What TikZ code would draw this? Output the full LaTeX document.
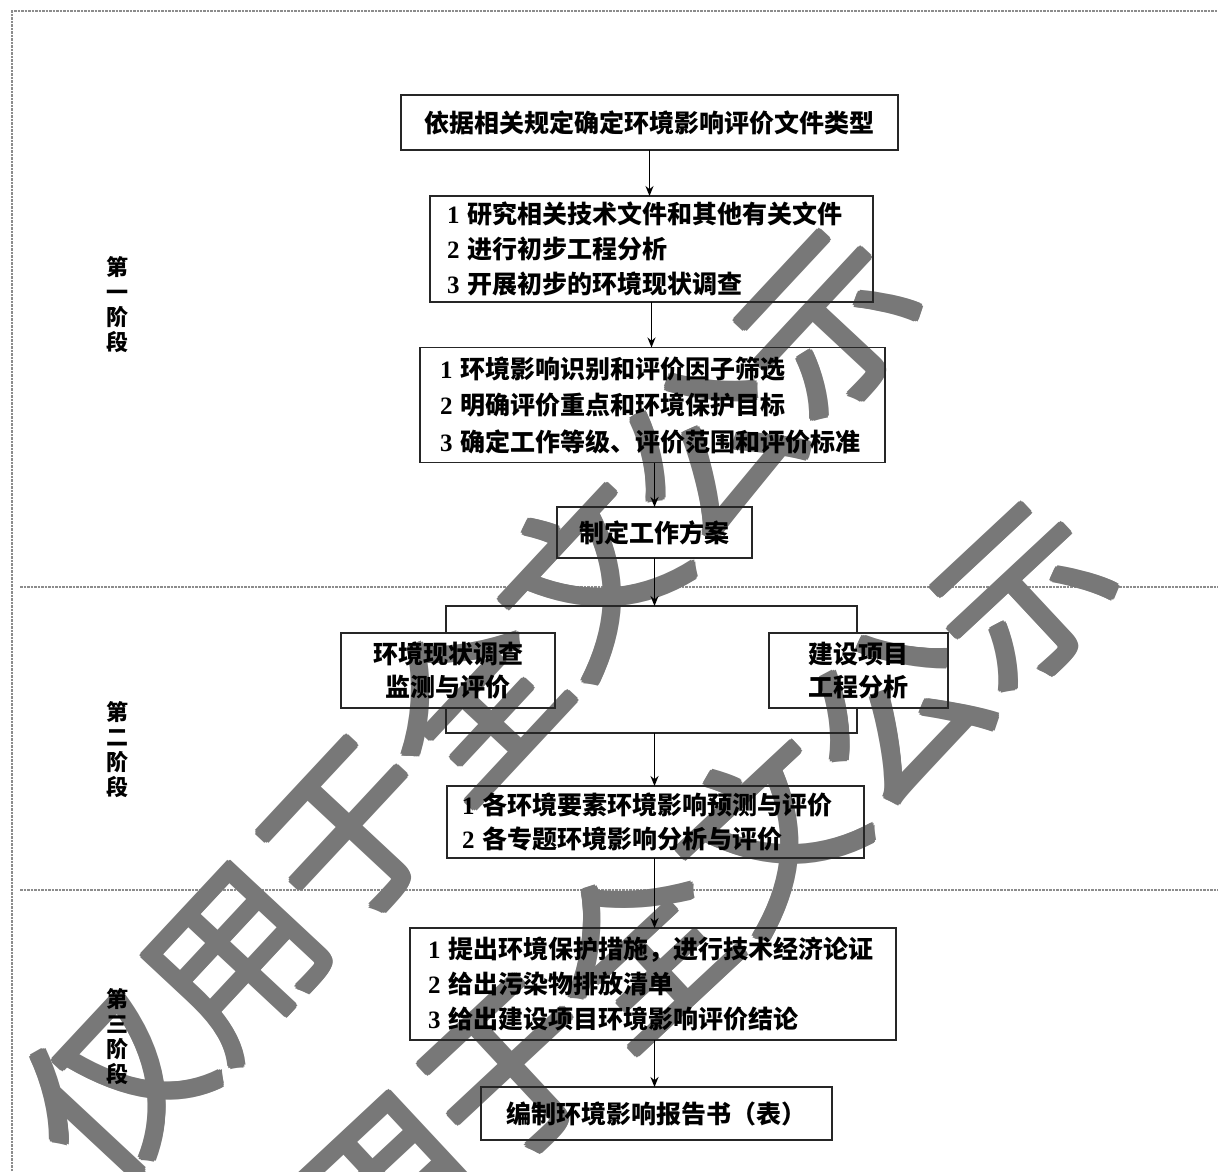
\documentclass[tikz,border=0pt]{standalone}
\usepackage{fontspec}
\setmainfont{Liberation Serif}
\newfontfamily\cjk{Noto Sans CJK SC}
\usetikzlibrary{arrows.meta}
\newcommand\numlab[1]{{\rmfamily\bfseries #1}}
\newcommand\wmtext{仅用于全文公示}
\begin{document}
\begin{tikzpicture}[x=1pt,y=-1pt,
  box/.style={draw=black!85, line width=1.6pt, inner sep=0pt, outer sep=0pt},
  boxtxt/.style={font=\cjk\bfseries\fontsize{25}{#1}\selectfont},
  frameline/.style={draw=black!85, line width=1.6pt},
  arr/.style={line width=1.6pt, -{Stealth[length=10pt,width=8pt]}},
  sepline/.style={draw=black!45, line width=1.6pt, dash pattern=on 2.5pt off 1pt},
  stage/.style={font=\cjk\bfseries\fontsize{22}{25}\selectfont, align=center, inner sep=0pt},
  wm/.style={font=\cjk\fontsize{174}{174}\selectfont, text=black!53, inner sep=0pt}]
\useasboundingbox (0,0) rectangle (1218,1171);
% frame and separators
\draw[sepline] (12,1171) -- (12,11) -- (1218,11);
\draw[sepline] (20,587) -- (1218,587);
\draw[sepline] (20,890) -- (1218,890);
% watermark (drawn first, thickened by small offset copies)
\foreach \dx/\dy [count=\k] in {0/0, 2.6/0, -2.6/0, 0/2.6, 0/-2.6, 1.9/1.9, -1.9/1.9, 1.9/-1.9, -1.9/-1.9} {
  \node[wm, rotate=47] (wma\k) at (470+\dx,703+\dy) {\wmtext};
  \node[wm, rotate=43] (wmb\k) at (640+\dx,950+\dy) {\wmtext};
}
% boxes
\node[box, boxtxt=30, minimum width=497pt, minimum height=55pt] (A) at (649.5,122.5) {依据相关规定确定环境影响评价文件类型};
\node[box, boxtxt=35, minimum width=443pt, minimum height=106pt, align=left, text width=409pt, inner xsep=17pt] (B) at (651.5,249) {\numlab{1} 研究相关技术文件和其他有关文件\\ \numlab{2} 进行初步工程分析\\ \numlab{3} 开展初步的环境现状调查};
\node[box, boxtxt=36.5, minimum width=465pt, minimum height=115pt, align=left, text width=425pt, inner xsep=20pt] (C) at (652.5,405) {\numlab{1} 环境影响识别和评价因子筛选\\ \numlab{2} 明确评价重点和环境保护目标\\ \numlab{3} 确定工作等级、评价范围和评价标准};
\node[box, boxtxt=30, minimum width=195pt, minimum height=51pt] (D) at (654.5,532.5) {制定工作方案};
\node[minimum width=411pt, minimum height=127pt, inner sep=0pt, outer sep=0pt] (br) at (651.5,669.5) {};
\node[box, boxtxt=33, minimum width=214pt, minimum height=75pt, align=center] (E) at (448,670.5) {环境现状调查\\监测与评价};
\node[box, boxtxt=33, minimum width=179pt, minimum height=75pt, align=center] (F) at (858.5,670.5) {建设项目\\工程分析};
\node[box, boxtxt=34, minimum width=417pt, minimum height=72pt, align=left, text width=387pt, inner xsep=15pt] (G) at (655.5,822) {\numlab{1} 各环境要素环境影响预测与评价\\ \numlab{2} 各专题环境影响分析与评价};
\node[box, boxtxt=35, minimum width=486pt, minimum height=112pt, align=left, text width=450pt, inner xsep=18pt] (H) at (653,984) {\numlab{1} 提出环境保护措施，进行技术经济论证\\ \numlab{2} 给出污染物排放清单\\ \numlab{3} 给出建设项目环境影响评价结论};
\node[box, boxtxt=30, minimum width=351pt, minimum height=53pt] (I) at (656.5,1113.5) {编制环境影响报告书（表）};
% bracket joining the two parallel tasks
\draw[frameline] (br.north west |- E.north) -- (br.north west) -- (br.north east) -- (br.north east |- F.north);
\draw[frameline] (br.south west |- E.south) -- (br.south west) -- (br.south east) -- (br.south east |- F.south);
% arrows
\draw[arr] (A.south) -- (A.south |- B.north);
\draw[arr] (B.south) -- (B.south |- C.north);
\draw[arr] (C.south -| D.north) -- (D.north);
\draw[arr] (D.south) -- (D.south |- br.north);
\draw[arr] (br.south -| D.south) -- (D.south |- G.north);
\draw[arr] (G.south -| D.south) -- (D.south |- H.north);
\draw[arr] (H.south -| D.south) -- (D.south |- I.north);
% stage labels
\node[stage] (s1) at (117,305) {第\\一\\阶\\段};
\node[stage] (s2) at (117,750) {第\\二\\阶\\段};
\node[stage] (s3) at (117,1037) {第\\三\\阶\\段};
\end{tikzpicture}
\end{document}
